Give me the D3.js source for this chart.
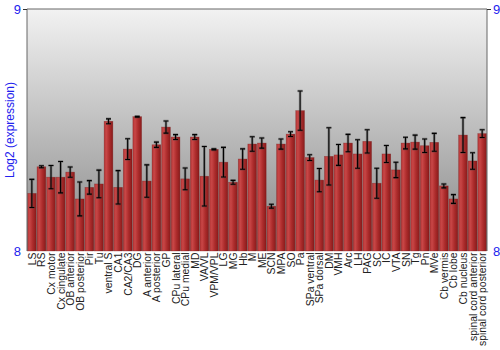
<!DOCTYPE html>
<html>
<head>
<meta charset="utf-8">
<script src="https://cdn.jsdelivr.net/npm/d3@7"></script>
<style>
  body { margin: 0; background: #fff; }
  svg { display: block; font-family: "Liberation Sans", Arial, sans-serif; }
</style>
</head>
<body>
<div id="chart"></div>
<script>
const regions = ["LS", "RS", "Cx motor", "Cx cingulate", "OB anterior", "OB posterior", "Pir", "Tu",
    "ventral S", "CA1", "CA2/CA3", "DG", "A anterior", "A posterior", "GP", "CPu lateral",
    "CPu medial", "MD", "VA/VL", "VPM/VPL", "LG", "MG", "Hb", "M", "ME", "SCN", "MPA", "SO",
    "Pa", "SPa ventral", "SPa dorsal", "DM", "VMH", "Arc", "LH", "PAG", "SC", "IC", "VTA",
    "SN", "Tg", "Pn", "MVe", "Cb vermis", "Cb lobe", "Cb nucleus", "spinal cord anterior",
    "spinal cord posterior"];

const expression = [8.238, 8.348, 8.305, 8.305, 8.326, 8.215, 8.263, 8.277,
    8.536, 8.263, 8.421, 8.555, 8.289, 8.439, 8.512, 8.471,
    8.298, 8.471, 8.309, 8.420, 8.367, 8.284, 8.380, 8.442, 8.446, 8.185, 8.442, 8.483,
    8.580, 8.386, 8.293, 8.391, 8.397, 8.446, 8.401, 8.453, 8.280, 8.401, 8.335,
    8.446, 8.450, 8.435, 8.449, 8.269, 8.215, 8.479, 8.372,
    8.485];

const errors = [0.058, 0.004, 0.048, 0.065, 0.021, 0.070, 0.028, 0.057,
    0.010, 0.069, 0.043, 0.002, 0.067, 0.011, 0.025, 0.010,
    0.045, 0.010, 0.123, 0.002, 0.061, 0.008, 0.042, 0.030, 0.021, 0.008, 0.021, 0.010,
    0.081, 0.012, 0.048, 0.118, 0.043, 0.036, 0.059, 0.048, 0.062, 0.035, 0.032,
    0.024, 0.029, 0.028, 0.037, 0.008, 0.018, 0.072, 0.034,
    0.016];

const yTicks = [8, 9];

const data = regions.map((r, i) => ({ region: r, value: expression[i], err: errors[i] }));

const margin = { top: 9, right: 13, bottom: 99, left: 27 };
const size = { width: 500, height: 350 };
const width = size.width - margin.left - margin.right;
const height = size.height - margin.top - margin.bottom;

const svg = d3.select("#chart")
    .append("svg")
    .attr("width", size.width)
    .attr("height", size.height);

const defs = svg.append("defs");

const bg = defs.append("linearGradient")
    .attr("id", "bgGrad")
    .attr("x1", 0).attr("y1", 0).attr("x2", 0).attr("y2", 1);
bg.append("stop").attr("offset", "0%").attr("stop-color", "#f2f2f2");
bg.append("stop").attr("offset", "100%").attr("stop-color", "#878787");

const barGrad = defs.append("linearGradient")
    .attr("id", "barGrad")
    .attr("x1", 0).attr("y1", 0).attr("x2", 1).attr("y2", 0);
barGrad.append("stop").attr("offset", "0%").attr("stop-color", "#b43636");
barGrad.append("stop").attr("offset", "25%").attr("stop-color", "#c84646");
barGrad.append("stop").attr("offset", "60%").attr("stop-color", "#ad2c2c");
barGrad.append("stop").attr("offset", "100%").attr("stop-color", "#891b1b");

const g = svg.append("g")
    .attr("transform", `translate(${margin.left}, ${margin.top})`);

const xScale = d3.scaleBand()
    .domain(regions)
    .range([0, width])
    .paddingInner(0.09)
    .paddingOuter(0.05);

const yScale = d3.scaleLinear()
    .domain([8, 9])
    .range([height, 0]);

// background panel
g.append("rect")
    .attr("width", width)
    .attr("height", height)
    .attr("fill", "url(#bgGrad)");

// bars
g.selectAll(".bar")
    .data(data)
    .join("rect")
    .attr("class", "bar")
    .attr("x", (d) => xScale(d.region))
    .attr("y", (d) => yScale(d.value))
    .attr("width", xScale.bandwidth())
    .attr("height", (d) => height - yScale(d.value))
    .attr("fill", "url(#barGrad)")
    .attr("stroke", "#7a1a1a")
    .attr("stroke-opacity", 0.5)
    .attr("stroke-width", 0.6);

// error bars
const cap = 2.5;
const errPath = (d) => {
    const y0 = yScale(d.value + d.err), y1 = yScale(d.value - d.err);
    return `M0,${y0}V${y1}M${-cap},${y0}H${cap}M${-cap},${y1}H${cap}`;
};
const err = g.selectAll(".err")
    .data(data)
    .join("g")
    .attr("class", "err")
    .attr("transform", (d) => `translate(${xScale(d.region) + xScale.bandwidth() / 2}, 0)`);

err.append("path")
    .attr("d", errPath)
    .attr("fill", "none")
    .attr("stroke", "#444")
    .attr("stroke-opacity", 0.45)
    .attr("stroke-width", 2.6);

err.append("path")
    .attr("d", errPath)
    .attr("fill", "none")
    .attr("stroke", "#000")
    .attr("stroke-width", 1.1);

// frame
g.append("path")
    .attr("d", `M0,${height}V0H${width}V${height}`)
    .attr("fill", "none")
    .attr("stroke", "#666")
    .attr("stroke-width", 1);

// y axes (left and right)
const yAxisL = g.append("g")
    .call(d3.axisLeft(yScale).tickValues(yTicks).tickFormat(d3.format("d")).tickSize(4).tickPadding(2));
const yAxisR = g.append("g")
    .attr("transform", `translate(${width}, 0)`)
    .call(d3.axisRight(yScale).tickValues(yTicks).tickFormat(d3.format("d")).tickSize(4).tickPadding(2));

[yAxisL, yAxisR].forEach((a) => {
    a.select(".domain").remove();
    a.selectAll(".tick line").attr("stroke", "#333");
    a.selectAll(".tick text")
        .attr("fill", "#2222ee")
        .style("font-size", "13px")
        .style("font-family", "'Liberation Sans', Arial, sans-serif");
    a.selectAll(".tick").filter((d) => d === 8).select("line").remove();
});

// x labels
g.selectAll(".x-label")
    .data(data)
    .join("text")
    .attr("class", "x-label")
    .attr("transform", (d) => `translate(${xScale(d.region) + xScale.bandwidth() / 2 + 4}, ${height + 1.5}) rotate(-90)`)
    .style("text-anchor", "end")
    .style("font-size", "10.4px")
    .attr("fill", "#222")
    .text((d) => d.region);

// y axis title
svg.append("text")
    .attr("x", -(margin.top + height / 2))
    .attr("y", 14)
    .attr("transform", "rotate(-90)")
    .style("text-anchor", "middle")
    .style("font-size", "12px")
    .attr("fill", "#2222ee")
    .text("Log2 (expression)");
</script>
</body>
</html>
